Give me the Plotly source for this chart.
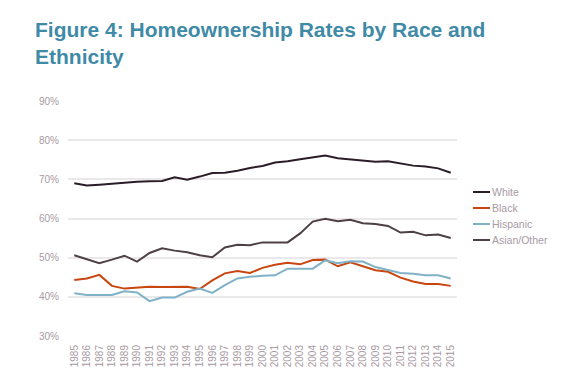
import plotly.graph_objects as go

years = list(range(1985, 2016))
white = [69.0, 68.4, 68.6, 68.9, 69.2, 69.4, 69.5, 69.6, 70.5, 69.9, 70.7, 71.6, 71.7, 72.2, 72.9, 73.4,
         74.3, 74.6, 75.1, 75.6, 76.1, 75.4, 75.1, 74.9, 74.5, 74.6, 74.1, 73.5, 73.3, 72.8, 71.7]
black = [44.3, 44.7, 45.6, 42.8, 42.1, 42.4, 42.6, 42.5, 42.5, 42.6, 42.0, 44.2, 46.0, 46.6, 46.1, 47.4,
         48.2, 48.7, 48.3, 49.4, 49.5, 47.8, 48.8, 47.7, 46.8, 46.4, 44.9, 43.9, 43.3, 43.3, 42.8]
hispanic = [40.9, 40.5, 40.5, 40.5, 41.4, 41.1, 38.9, 39.8, 39.8, 41.3, 42.1, 41.0, 43.0, 44.7, 45.1, 45.4,
            45.5, 47.2, 47.2, 47.2, 49.3, 48.6, 49.1, 49.0, 47.6, 46.9, 46.1, 45.9, 45.5, 45.5, 44.7]
asian_other = [50.6, 49.5, 48.6, 49.5, 50.5, 49.0, 51.2, 52.4, 51.8, 51.4, 50.6, 50.1, 52.6, 53.3, 53.2, 53.9,
               53.9, 53.9, 56.2, 59.2, 59.9, 59.3, 59.7, 58.8, 58.6, 58.1, 56.4, 56.6, 55.7, 55.9, 55.0]

series_names = ["White", "Black", "Hispanic", "Asian/Other"]
series_values = [white, black, hispanic, asian_other]
series_colors = ["#2b1d27", "#c8460f", "#7fb2c6", "#4d4046"]

y_ticks = [30, 40, 50, 60, 70, 80, 90]
y_labels = [f"{v}%" for v in y_ticks]

title_text = "Figure 4: Homeownership Rates by Race and<br>Ethnicity"

label_color = "#a89aa3"
font_family = "Liberation Sans, Arial, sans-serif"

fig = go.Figure()
for name, vals, col in zip(series_names, series_values, series_colors):
    fig.add_trace(go.Scatter(x=years, y=vals, mode="lines", name=name,
                             line=dict(color=col, width=2), showlegend=False))

# Manual legend (short line samples like the reference)
plot_l, plot_r, plot_t, plot_b = 60, 449, 93, 328
pw, ph = plot_r - plot_l, plot_b - plot_t
for i, (name, col) in enumerate(zip(series_names, series_colors)):
    ypx = 184 + 16 * i
    yp = (plot_b - ypx) / ph
    x0 = (465 - plot_l) / pw
    x1 = (482 - plot_l) / pw
    fig.add_shape(type="line", xref="paper", yref="paper", x0=x0, x1=x1, y0=yp, y1=yp,
                  line=dict(color=col, width=2))
    fig.add_annotation(xref="paper", yref="paper", x=(482 - plot_l) / pw, y=yp,
                       xanchor="left", yanchor="middle", text=name, showarrow=False,
                       font=dict(size=10.5, color=label_color, family=font_family))

fig.update_layout(
    width=576, height=370,
    margin=dict(l=plot_l, r=576 - plot_r, t=plot_t, b=370 - plot_b),
    paper_bgcolor="white", plot_bgcolor="white",
    title=dict(text=title_text, x=27 / 576, xanchor="left", xref="container",
               y=1 - 29 / 370, yanchor="top", yref="container",
               font=dict(size=21, color="#3f8aa6", family=font_family, weight="bold")),
    font=dict(family=font_family, color=label_color, size=10),
    xaxis=dict(range=[1984.5, 2015.5], tickmode="array", tickvals=years,
               ticktext=[str(y) for y in years], tickangle=-90, showgrid=False,
               zeroline=False, showline=False, ticks="outside", ticklen=4, tickcolor="rgba(0,0,0,0)",
               tickfont=dict(size=10, color=label_color)),
    yaxis=dict(range=[30, 90], tickmode="array", tickvals=y_ticks, ticktext=y_labels,
               showgrid=True, gridcolor="#ebe8e9", gridwidth=1.5, zeroline=False, showline=False,
               ticks="outside", ticklen=6, tickcolor="rgba(0,0,0,0)",
               tickfont=dict(size=10, color=label_color)),
)

fig.write_html("out.html")
